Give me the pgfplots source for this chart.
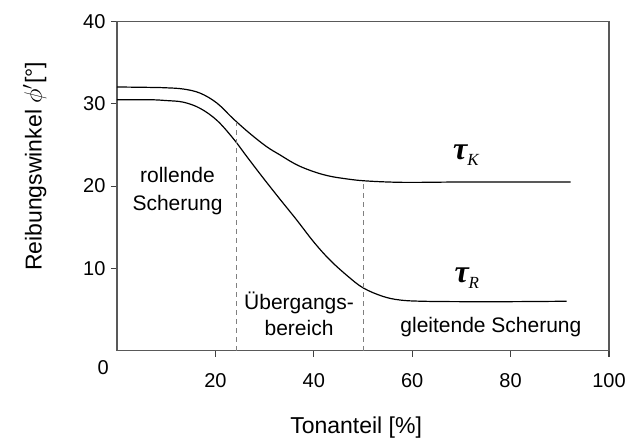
\documentclass[border=0pt]{standalone}
\usepackage{fontspec}
\setmainfont{Liberation Sans}
\newfontfamily\serifgr{Liberation Serif}
\usepackage{pgfplots}
\pgfplotsset{compat=1.18}

\begin{document}
\begin{tikzpicture}
% frame of the page, in reference pixels (1px = 1pt)
\path[use as bounding box] (-117pt,-93.4pt) rectangle (510pt,350.6pt);
\begin{axis}[
    scale only axis,
    width=492pt, height=329pt,
    xmin=0, xmax=100, ymin=0, ymax=40,
    xtick={20,40,60,80,100},
    ytick={10,20,30,40},
    tick align=outside,
    tick pos=left,
    major tick length=6pt,
    axis line style={black!65, line width=1.3pt},
    every tick/.style={black!75, line width=1.1pt},
    /pgf/number format/assume math mode=true,
    tick label style={font=\fontsize{20}{24}\selectfont},
    xticklabel style={yshift=-13pt},
    yticklabel style={xshift=-2pt},
    xlabel={Tonanteil [\%]},
    ylabel={Reibungswinkel $\phi'$[°]},
    every axis x label/.style={at={(rel axis cs:0.486,-0.234)}, anchor=center,
        font=\fontsize{23}{27}\selectfont},
    every axis y label/.style={at={(rel axis cs:-0.167,0.56)}, rotate=90, anchor=center,
        font=\fontsize{23}{27}\selectfont},
    clip=false,
]
% tau_K
\addplot[black, line width=1.2pt, smooth, tension=0.6] coordinates {
  (0,32.05) (6.7,32.0) (10,31.95) (13.5,31.8) (16.9,31.3) (20.3,30.1) (23.6,28.2)
  (27,26.4) (30.4,24.8) (33.1,23.8) (36.5,22.6) (40,21.75) (43.3,21.2) (47,20.85)
  (50.1,20.65) (55,20.5) (60,20.45) (70,20.5) (80,20.5) (92.2,20.5)};
% tau_R
\addplot[black, line width=1.2pt, smooth, tension=0.6] coordinates {
  (0,30.5) (6.7,30.5) (10,30.4) (13.5,30.2) (16.9,29.45) (20.3,28.0) (23.6,25.8)
  (26.5,23.5) (29.7,21.0) (33,18.5) (36.5,15.9) (40,13.2) (43.3,11.0) (47,9.0)
  (50.1,7.6) (54,6.6) (57.5,6.15) (62,6.0) (70,5.95) (80,5.95) (91.4,6.0)};
% boundaries of the transition zone
\addplot[black!50, line width=1pt, dash pattern=on 5pt off 4pt] coordinates {(24.2,0) (24.2,27.8)};
\addplot[black!50, line width=1pt, dash pattern=on 5pt off 4pt] coordinates {(50.2,0) (50.2,20.65)};

\node[font=\fontsize{20}{24}\selectfont] at (rel axis cs:-0.028,-0.053) {0};
\node[font=\fontsize{21}{28}\selectfont, align=center] at (axis cs:12.3,19.4) {rollende\\Scherung};
\node[font=\fontsize{21}{26}\selectfont, align=center] at (axis cs:37.0,4.45) {Übergangs-\\bereich};
\node[font=\fontsize{21}{26}\selectfont] at (axis cs:76.0,2.83) {gleitende Scherung};
\node at (axis cs:70.9,23.8) {\serifgr\fontsize{32}{36}\selectfont\bfseries\itshape τ\raisebox{-6pt}{\fontsize{17}{20}\selectfont\mdseries K}};
\node at (axis cs:71.1,8.8) {\serifgr\fontsize{32}{36}\selectfont\bfseries\itshape τ\raisebox{-6pt}{\fontsize{17}{20}\selectfont\mdseries R}};
\end{axis}
\end{tikzpicture}
\end{document}
